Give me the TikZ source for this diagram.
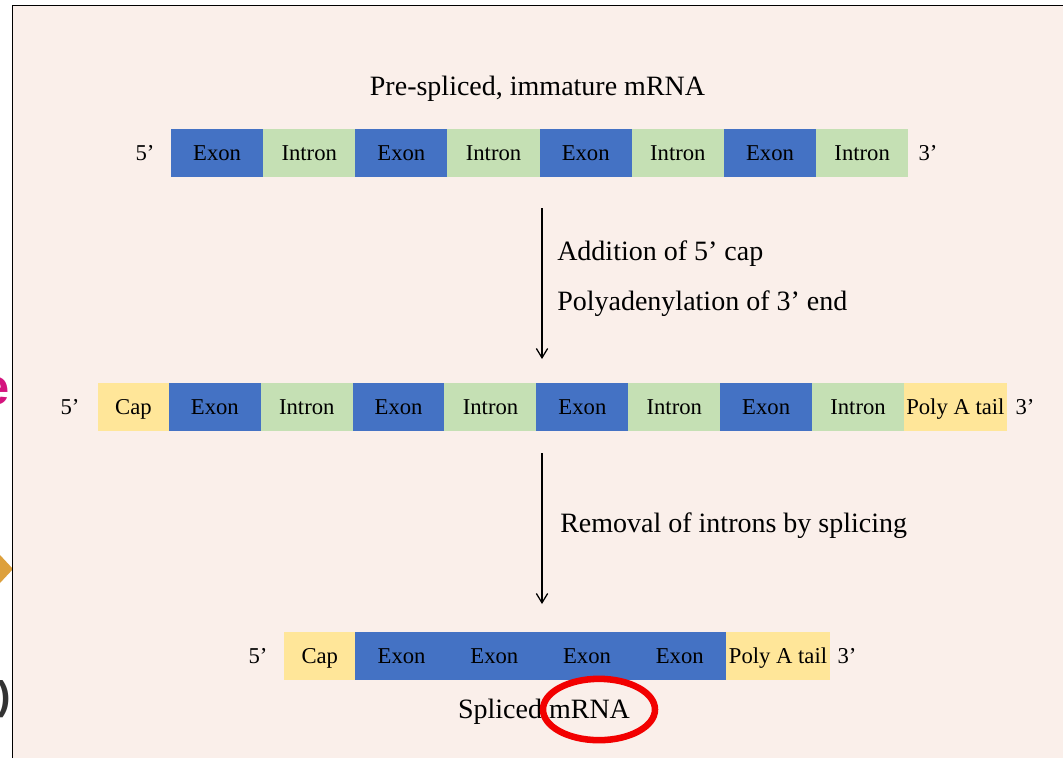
\documentclass[tikz,border=0pt]{standalone}
\usepackage{fontspec}
\setmainfont{Liberation Serif}
\newfontfamily\sidefont{Liberation Sans}
\usetikzlibrary{arrows.meta}
\definecolor{exonblue}{HTML}{4472C4}
\definecolor{introngreen}{HTML}{C5E0B4}
\definecolor{capyellow}{HTML}{FFE699}
\definecolor{slidebg}{HTML}{FAEFEA}
\definecolor{ringred}{HTML}{F20000}
\definecolor{sidegold}{HTML}{DDA03C}
\definecolor{sidepink}{HTML}{D4147E}
\newcommand{\segfont}{\fontsize{17}{20}\selectfont}
\newcommand{\stepfont}{\fontsize{21}{25}\selectfont}
\begin{document}
\begin{tikzpicture}[x=0.75pt, y=-0.75pt,
    seg/.style={inner sep=0pt, outer sep=0pt, minimum height=36pt,
      text height=11pt, text depth=0pt, font=\segfont},
    exon/.style={seg, fill=exonblue},
    intron/.style={seg, fill=introngreen},
    endcap/.style={seg, fill=capyellow},
    prime/.style={seg},
    steptext/.style={anchor=base west, inner sep=0pt, font=\stepfont},
    flow/.style={line width=0.95pt, -{Straight Barb[length=7pt,width=8.5pt]}}]
  \useasboundingbox (0,0) rectangle (1063,758);
  \fill[white] (0,0) rectangle (1063,758);
  % cut-off bits of the next slide
  \begin{scope}
    \clip (0,0) rectangle (11.8,758);
    \fill[sidegold] (0,555) -- (13,569) -- (0,583) -- cycle;
    \node[anchor=base east, inner sep=0pt, text=sidepink,
      font=\sidefont\bfseries\fontsize{38}{38}\selectfont] (sidee) at (10,404) {e};
    \node[anchor=base east, inner sep=0pt, text=black!80,
      font=\sidefont\bfseries\fontsize{30}{30}\selectfont] (sidep) at (11,709) {)};
  \end{scope}
  \fill[slidebg] (12.5,5.3) rectangle (1063,758);
  \draw[line width=1pt] (12.5,758) -- (12.5,5.3) -- (1063,5.3);
  % pre-spliced
  \node[anchor=base, inner sep=0pt, font=\stepfont] (title) at (537.5,95) {Pre-spliced, immature mRNA};
  \node[prime] (p5a) at (145,153) {5’};
  \foreach \k/\kind/\txt in {0/exon/Exon,1/intron/Intron,2/exon/Exon,3/intron/Intron,
      4/exon/Exon,5/intron/Intron,6/exon/Exon,7/intron/Intron}
    \node[\kind, minimum width=69.3pt] (pre\k) at ({217.1+92.15*\k},153) {\txt};
  \node[prime] (p3a) at (928,153) {3’};
  % first step
  \coordinate (capfrom) at (542,208);
  \coordinate (capto) at (542,359);
  \draw[flow] (capfrom) -- (capto);
  \node[steptext] (addcap) at (557,260) {Addition of 5’ cap};
  \node[steptext] (polya) at (557,310) {Polyadenylation of 3’ end};
  % capped and tailed
  \node[prime] (p5b) at (70,407) {5’};
  \node[endcap, minimum width=53.6pt] (capb) at (133.4,407) {Cap};
  \foreach \k/\kind/\txt in {0/exon/Exon,1/intron/Intron,2/exon/Exon,3/intron/Intron,
      4/exon/Exon,5/intron/Intron,6/exon/Exon,7/intron/Intron}
    \node[\kind, minimum width=69.1pt] (mid\k) at ({214.9+91.875*\k},407) {\txt};
  \node[endcap, minimum width=77pt] (tailb) at (955.4,407) {Poly A tail};
  \node[prime] (p3b) at (1025,407) {3’};
  % second step
  \coordinate (cutfrom) at (542,453);
  \coordinate (cutto) at (542,604);
  \draw[flow] (cutfrom) -- (cutto);
  \node[steptext] (splice) at (560,532) {Removal of introns by splicing};
  % spliced
  \node[prime] (p5c) at (258,656) {5’};
  \node[endcap, minimum width=53.4pt] (capc) at (319.8,656) {Cap};
  \foreach \k in {0,...,3}
    \node[exon, minimum width=69.7pt] (ex\k) at ({401.65+92.7*\k},656) {Exon};
  \node[endcap, minimum width=78pt] (tailc) at (778,656) {Poly A tail};
  \node[prime] (p3c) at (847,656) {3’};
  \node[anchor=base, inner sep=0pt, font=\stepfont] (done) at (544,718) {Spliced mRNA};
  \draw[ringred, line width=4.9pt] (599,709.5) ellipse [x radius=42pt, y radius=23pt];
\end{tikzpicture}
\end{document}
